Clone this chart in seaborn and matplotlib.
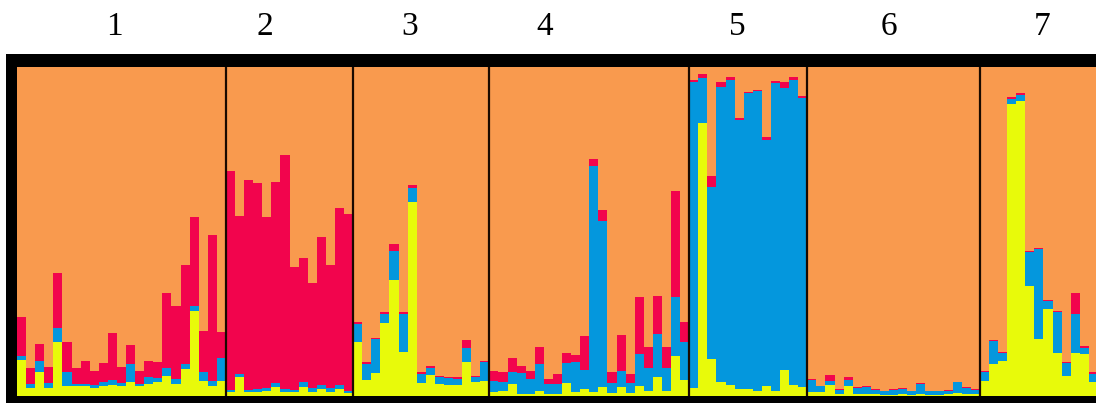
import numpy as np
import pandas as pd
import matplotlib
matplotlib.use("Agg")
import matplotlib.pyplot as plt
import matplotlib.transforms as mtransforms
from matplotlib.patches import Rectangle
import seaborn as sns

# ---------------- data (membership proportions per individual) ----------------
pop_labels = ["1", "2", "3", "4", "5", "6", "7"]
pop_sizes = [23, 14, 15, 22, 13, 19, 13]

yellow = [
    # pop 1
    .110, .023, .074, .023, .163, .031, .029, .029, .025, .031, .033, .029,
    .044, .029, .036, .042, .060, .036, .082, .259, .047, .031, .047,
    # pop 2
    .011, .057, .011, .013, .016, .028, .013, .011, .026, .013, .021, .013, .021, .009,
    # pop 3
    .163, .049, .070, .222, .354, .133, .591, .039, .064, .036, .034, .034, .102, .042, .047,
    # pop 4
    .013, .016, .036, .006, .006, .016, .006, .006, .040, .013, .021, .011,
    .026, .009, .026, .009, .029, .016, .057, .016, .121, .049,
    # pop 5
    .023, .830, .112, .042, .033, .021, .021, .016, .029, .016, .079, .033, .026,
    # pop 6
    .011, .011, .034, .006, .031, .006, .006, .006, .004, .004, .006, .004,
    .006, .004, .004, .006, .009, .006, .006,
    # pop 7
    .047, .097, .107, .888, .896, .333, .173, .264, .131, .062, .131, .128, .042,
]

blue = [
    # pop 1
    .011, .013, .033, .017, .044, .043, .007, .007, .008, .011, .017, .011,
    .053, .007, .021, .012, .024, .016, .015, .014, .025, .016, .067,
    # pop 2
    .008, .010, .008, .008, .007, .011, .008, .008, .016, .010, .012, .010, .012, .007,
    # pop 3
    .056, .048, .103, .027, .088, .116, .040, .028, .020, .021, .020, .018, .043, .015, .057,
    # pop 4
    .034, .026, .036, .064, .046, .081, .030, .030, .060, .089, .058, .689,
    .507, .030, .051, .030, .099, .068, .131, .068, .179, .116,
    # pop 5
    .930, .136, .522, .898, .929, .818, .899, .910, .750, .935, .856, .929, .879,
    # pop 6
    .039, .018, .013, .013, .018, .017, .022, .013, .010, .015, .015, .010,
    .031, .010, .010, .010, .033, .018, .013,
    # pop 7
    .025, .069, .023, .015, .019, .104, .274, .024, .123, .037, .118, .019, .025,
]

red = [
    # pop 1
    .118, .049, .051, .047, .167, .091, .049, .071, .044, .057, .141, .049,
    .059, .041, .050, .048, .228, .223, .301, .272, .127, .443, .080,
    # pop 2
    .664, .479, .639, .625, .520, .610, .712, .372, .376, .320, .451, .375, .537, .537,
    # pop 3
    .005, .005, .004, .007, .020, .005, .010, .005, .006, .005, .005, .005, .025, .005, .003,
    # pop 4
    .030, .030, .042, .020, .025, .053, .016, .031, .031, .023, .102, .020,
    .032, .033, .108, .028, .172, .066, .115, .066, .324, .059,
    # pop 5
    .009, .013, .036, .013, .007, .006, .005, .005, .007, .005, .018, .007, .008,
    # pop 6
    .002, .002, .018, .002, .008, .003, .003, .002, .002, .002, .002, .002,
    .003, .002, .002, .002, .002, .002, .002,
    # pop 7
    .005, .005, .005, .007, .007, .004, .004, .004, .003, .005, .063, .004, .005,
]

# ---------------- styling / layout ----------------
C_ORANGE = "#F99A4E"
C_RED = "#F2044D"
C_BLUE = "#0497DD"
C_YELLOW = "#E8FA0A"
label_x = [10.2, 26.8, 42.7, 57.6, 78.8, 95.5, 112.4]   # label positions (bar units)

W, H = 1096, 406
sns.set_theme(style="white")
plt.rcParams["font.family"] = ["Liberation Serif", "DejaVu Serif"]

fig = plt.figure(figsize=(W / 100, H / 100), dpi=100)
fig.patch.set_facecolor("white")

# thick black frame behind the plot
fig.add_artist(Rectangle((6 / W, (H - 404) / H), (W - 6) / W, (404 - 55) / H,
                         transform=fig.transFigure, facecolor="black",
                         edgecolor="none", zorder=0))

ax = fig.add_axes([17 / W, (H - 397) / H, (W - 17) / W, (397 - 68) / H])
ax.set_zorder(1)
ax.patch.set_visible(False)

n = len(yellow)
y_arr = np.array(yellow)
b_arr = np.array(blue)
r_arr = np.array(red)
df = pd.DataFrame({
    "ind": np.arange(n),
    "full": np.ones(n),
    "c_red": y_arr + b_arr + r_arr,
    "c_blue": y_arr + b_arr,
    "c_yellow": y_arr,
})

for col, colr in [("full", C_ORANGE), ("c_red", C_RED), ("c_blue", C_BLUE), ("c_yellow", C_YELLOW)]:
    sns.barplot(data=df, x="ind", y=col, color=colr, width=1.0, saturation=1,
                linewidth=0, edgecolor="none", errorbar=None, ax=ax)

# population separators
bounds = np.cumsum(pop_sizes)[:-1] - 0.5
for bx in bounds:
    ax.axvline(bx, color="#1a0a00", lw=1.6, zorder=5)

ax.set_xlim(-0.5, n - 0.5 - 0.22)
ax.set_ylim(0, 1)
ax.set_xticks([])
ax.set_yticks([])
ax.set_xlabel("")
ax.set_ylabel("")
for s in ax.spines.values():
    s.set_visible(False)

trans = mtransforms.blended_transform_factory(ax.transData, ax.transAxes)
for lx, lab in zip(label_x, pop_labels):
    ax.text(lx, 1.125, lab, transform=trans, ha="center", va="center",
            fontsize=24, color="black", clip_on=False)

fig.savefig("out.png", dpi=100, facecolor="white")
